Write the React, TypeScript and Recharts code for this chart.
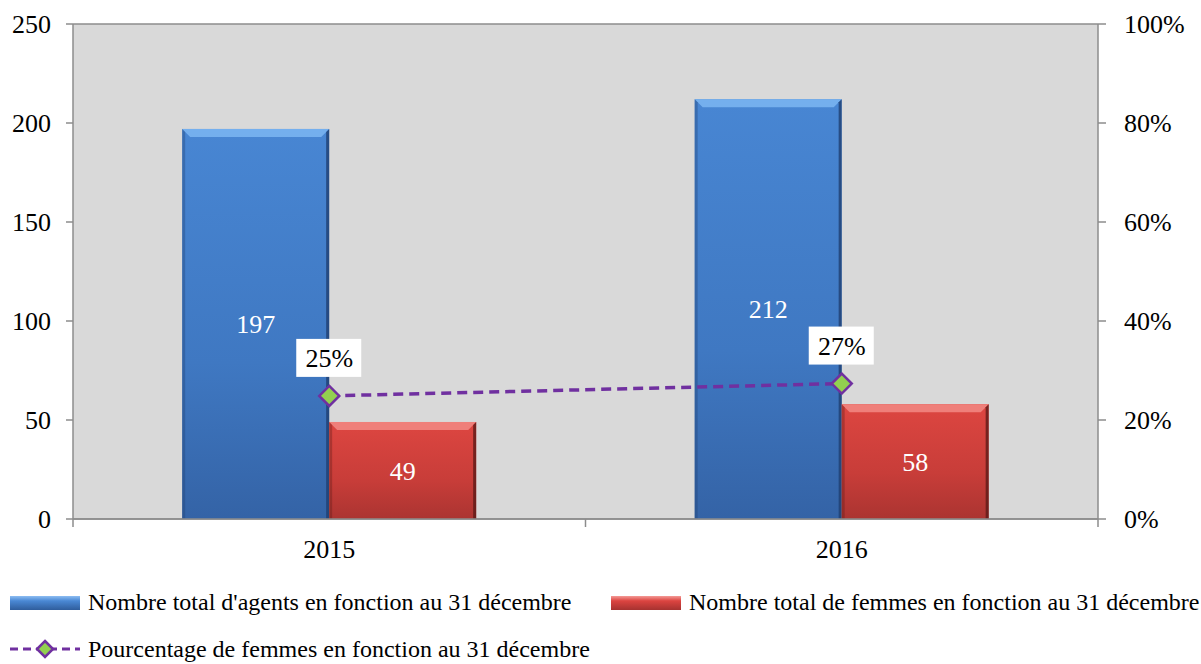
import React from 'react'
import { ComposedChart, Bar, Line, XAxis, YAxis, CartesianGrid, Legend, LabelList } from 'recharts'

const years = ['2015', '2016']
const totalAgents = [197, 212]
const totalWomen = [49, 58]
const womenShare = [0.2487, 0.2736]
const leftTicks = [0, 50, 100, 150, 200, 250]
const rightTicks = [0, 0.2, 0.4, 0.6, 0.8, 1]

const seriesNames = {
  agents: "Nombre total d'agents en fonction au 31 décembre",
  women: 'Nombre total de femmes en fonction au 31 décembre',
  share: 'Pourcentage de femmes en fonction au 31 décembre',
}

const data = years.map((y, i) => ({
  year: y,
  agents: totalAgents[i],
  women: totalWomen[i],
  share: womenShare[i],
}))

const FONT = "'Liberation Serif', 'Times New Roman', serif"
const PURPLE = '#7030a0'
const AXIS = '#8c8c8c'

// beveled bar look, like the office "bevel" style
const bevelShape = (light: string, dark: string, fillId: string) => (props: any) => {
  const { x, y, width, height } = props
  if (!height || height <= 0) return null
  const b = 8
  return (
    <g>
      <rect x={x} y={y} width={width} height={height} fill={`url(#${fillId})`} />
      <polygon points={`${x},${y} ${x + width},${y} ${x + width - b},${y + b} ${x + b},${y + b}`} fill={light} opacity={0.85} />
      <polygon points={`${x + width},${y} ${x + width},${y + height} ${x + width - 3},${y + height} ${x + width - 3},${y + 3}`} fill={dark} opacity={0.8} />
      <polygon points={`${x},${y} ${x + 3},${y + 3} ${x + 3},${y + height} ${x},${y + height}`} fill={dark} opacity={0.35} />
    </g>
  )
}

const Diamond = (props: any) => {
  const { cx, cy } = props
  if (cx == null || cy == null) return null
  const r = 10
  return (
    <polygon
      points={`${cx},${cy - r} ${cx + r},${cy} ${cx},${cy + r} ${cx - r},${cy}`}
      fill="#92d050"
      stroke={PURPLE}
      strokeWidth={2.5}
    />
  )
}

const ShareLabel = (props: any) => {
  const { x, y, value } = props
  const txt = `${Math.round(value * 100)}%`
  return (
    <g>
      <rect x={x - 33} y={y - 57} width={65} height={38} fill="#ffffff" />
      <text x={x} y={y - 29} textAnchor="middle" style={{ fontFamily: FONT, fontSize: 26 }} fill="#000">
        {txt}
      </text>
    </g>
  )
}

const XTick = (props: any) => {
  const { x, y, payload, index } = props
  const half = 256.25
  return (
    <g>
      {index === 0 && <line x1={x - half} y1={y - 8} x2={x - half} y2={y} stroke={AXIS} strokeWidth={1.5} />}
      <line x1={x + half} y1={y - 8} x2={x + half} y2={y} stroke={AXIS} strokeWidth={1.5} />
      <text x={x} y={y + 31} textAnchor="middle" style={{ fontFamily: FONT, fontSize: 26 }} fill="#000">
        {payload.value}
      </text>
    </g>
  )
}

const LegendContent = () => (
  <div style={{ fontFamily: FONT, fontSize: 24, color: '#000', position: 'relative', height: 90 }}>
    <div style={{ position: 'absolute', left: 10, top: 15, display: 'flex', alignItems: 'center', whiteSpace: 'nowrap' }}>
      <svg width={70} height={14} style={{ display: 'block' }}>
        <defs>
          <linearGradient id="lgBlue" x1="0" y1="0" x2="0" y2="1">
            <stop offset="0" stopColor="#8dbdf2" />
            <stop offset="0.35" stopColor="#4a88d4" />
            <stop offset="1" stopColor="#2f5d9c" />
          </linearGradient>
          <linearGradient id="lgRed" x1="0" y1="0" x2="0" y2="1">
            <stop offset="0" stopColor="#f49a96" />
            <stop offset="0.35" stopColor="#dc4440" />
            <stop offset="1" stopColor="#a63230" />
          </linearGradient>
        </defs>
        <rect x={0} y={0} width={70} height={14} fill="url(#lgBlue)" />
      </svg>
      <span style={{ marginLeft: 8 }}>{seriesNames.agents}</span>
    </div>
    <div style={{ position: 'absolute', left: 611, top: 15, display: 'flex', alignItems: 'center', whiteSpace: 'nowrap' }}>
      <svg width={70} height={14} style={{ display: 'block' }}>
        <rect x={0} y={0} width={70} height={14} fill="url(#lgRed)" />
      </svg>
      <span style={{ marginLeft: 8 }}>{seriesNames.women}</span>
    </div>
    <div style={{ position: 'absolute', left: 10, top: 62, display: 'flex', alignItems: 'center', whiteSpace: 'nowrap' }}>
      <svg width={70} height={20} style={{ display: 'block' }}>
        <line x1={0} y1={10} x2={70} y2={10} stroke={PURPLE} strokeWidth={3} strokeDasharray="8 5" />
        <polygon points="35,2 43,10 35,18 27,10" fill="#92d050" stroke={PURPLE} strokeWidth={2.5} />
      </svg>
      <span style={{ marginLeft: 8, lineHeight: '26px' }}>{seriesNames.share}</span>
    </div>
  </div>
)

export default function App() {
  React.useEffect(() => {
    document.body.style.margin = '0'
  }, [])
  const tickStyle = { fontFamily: FONT, fontSize: 26, fill: '#000' }
  return (
    <div style={{ width: 1201, height: 664, background: '#fff', fontFamily: FONT }}>
      <ComposedChart
        width={1201}
        height={664}
        data={data}
        margin={{ top: 24, right: 0, left: 0, bottom: 0 }}
        barGap={0}
        barCategoryGap="21.3%"
        style={{ fontFamily: FONT }}
      >
        <defs>
          <linearGradient id="gBlue" x1="0" y1="0" x2="0" y2="1">
            <stop offset="0" stopColor="#4886d3" />
            <stop offset="0.6" stopColor="#3f78c2" />
            <stop offset="1" stopColor="#3463a6" />
          </linearGradient>
          <linearGradient id="gRed" x1="0" y1="0" x2="0" y2="1">
            <stop offset="0" stopColor="#dd4641" />
            <stop offset="0.6" stopColor="#c83d39" />
            <stop offset="1" stopColor="#ab3431" />
          </linearGradient>
        </defs>
        <CartesianGrid vertical={false} stroke={AXIS} strokeWidth={1.5} fill="#d9d9d9" />
        <XAxis
          dataKey="year"
          height={55}
          tick={<XTick />}
          tickLine={false}
          axisLine={{ stroke: AXIS, strokeWidth: 1.5 }}
        />
        <YAxis
          yAxisId="left"
          width={73}
          domain={[0, 250]}
          ticks={leftTicks}
          tickSize={7}
          tickMargin={15}
          tick={tickStyle}
          tickLine={{ stroke: AXIS, strokeWidth: 1.5 }}
          axisLine={{ stroke: AXIS, strokeWidth: 1.5 }}
        />
        <YAxis
          yAxisId="right"
          orientation="right"
          width={103}
          domain={[0, 1]}
          ticks={rightTicks}
          tickFormatter={(v: number) => `${Math.round(v * 100)}%`}
          tickSize={8}
          tickMargin={18}
          tick={tickStyle}
          tickLine={{ stroke: AXIS, strokeWidth: 1.5 }}
          axisLine={{ stroke: AXIS, strokeWidth: 1.5 }}
        />
        <Legend verticalAlign="bottom" align="left" height={90} content={<LegendContent />} />
        <Bar
          yAxisId="left"
          dataKey="agents"
          name={seriesNames.agents}
          fill="url(#gBlue)"
          shape={bevelShape('#7db6f2', '#1f3f70', 'gBlue')}
          isAnimationActive={false}
        >
          <LabelList dataKey="agents" position="center" fill="#fff" style={{ fontFamily: FONT, fontSize: 26 }} />
        </Bar>
        <Bar
          yAxisId="left"
          dataKey="women"
          name={seriesNames.women}
          fill="url(#gRed)"
          shape={bevelShape('#f28a85', '#5e1a18', 'gRed')}
          isAnimationActive={false}
        >
          <LabelList dataKey="women" position="center" fill="#fff" style={{ fontFamily: FONT, fontSize: 26 }} />
        </Bar>
        <Line
          yAxisId="right"
          dataKey="share"
          name={seriesNames.share}
          stroke={PURPLE}
          strokeWidth={3.5}
          strokeDasharray="10 6"
          dot={<Diamond />}
          activeDot={false}
          isAnimationActive={false}
        >
          <LabelList dataKey="share" content={<ShareLabel />} />
        </Line>
      </ComposedChart>
    </div>
  )
}
